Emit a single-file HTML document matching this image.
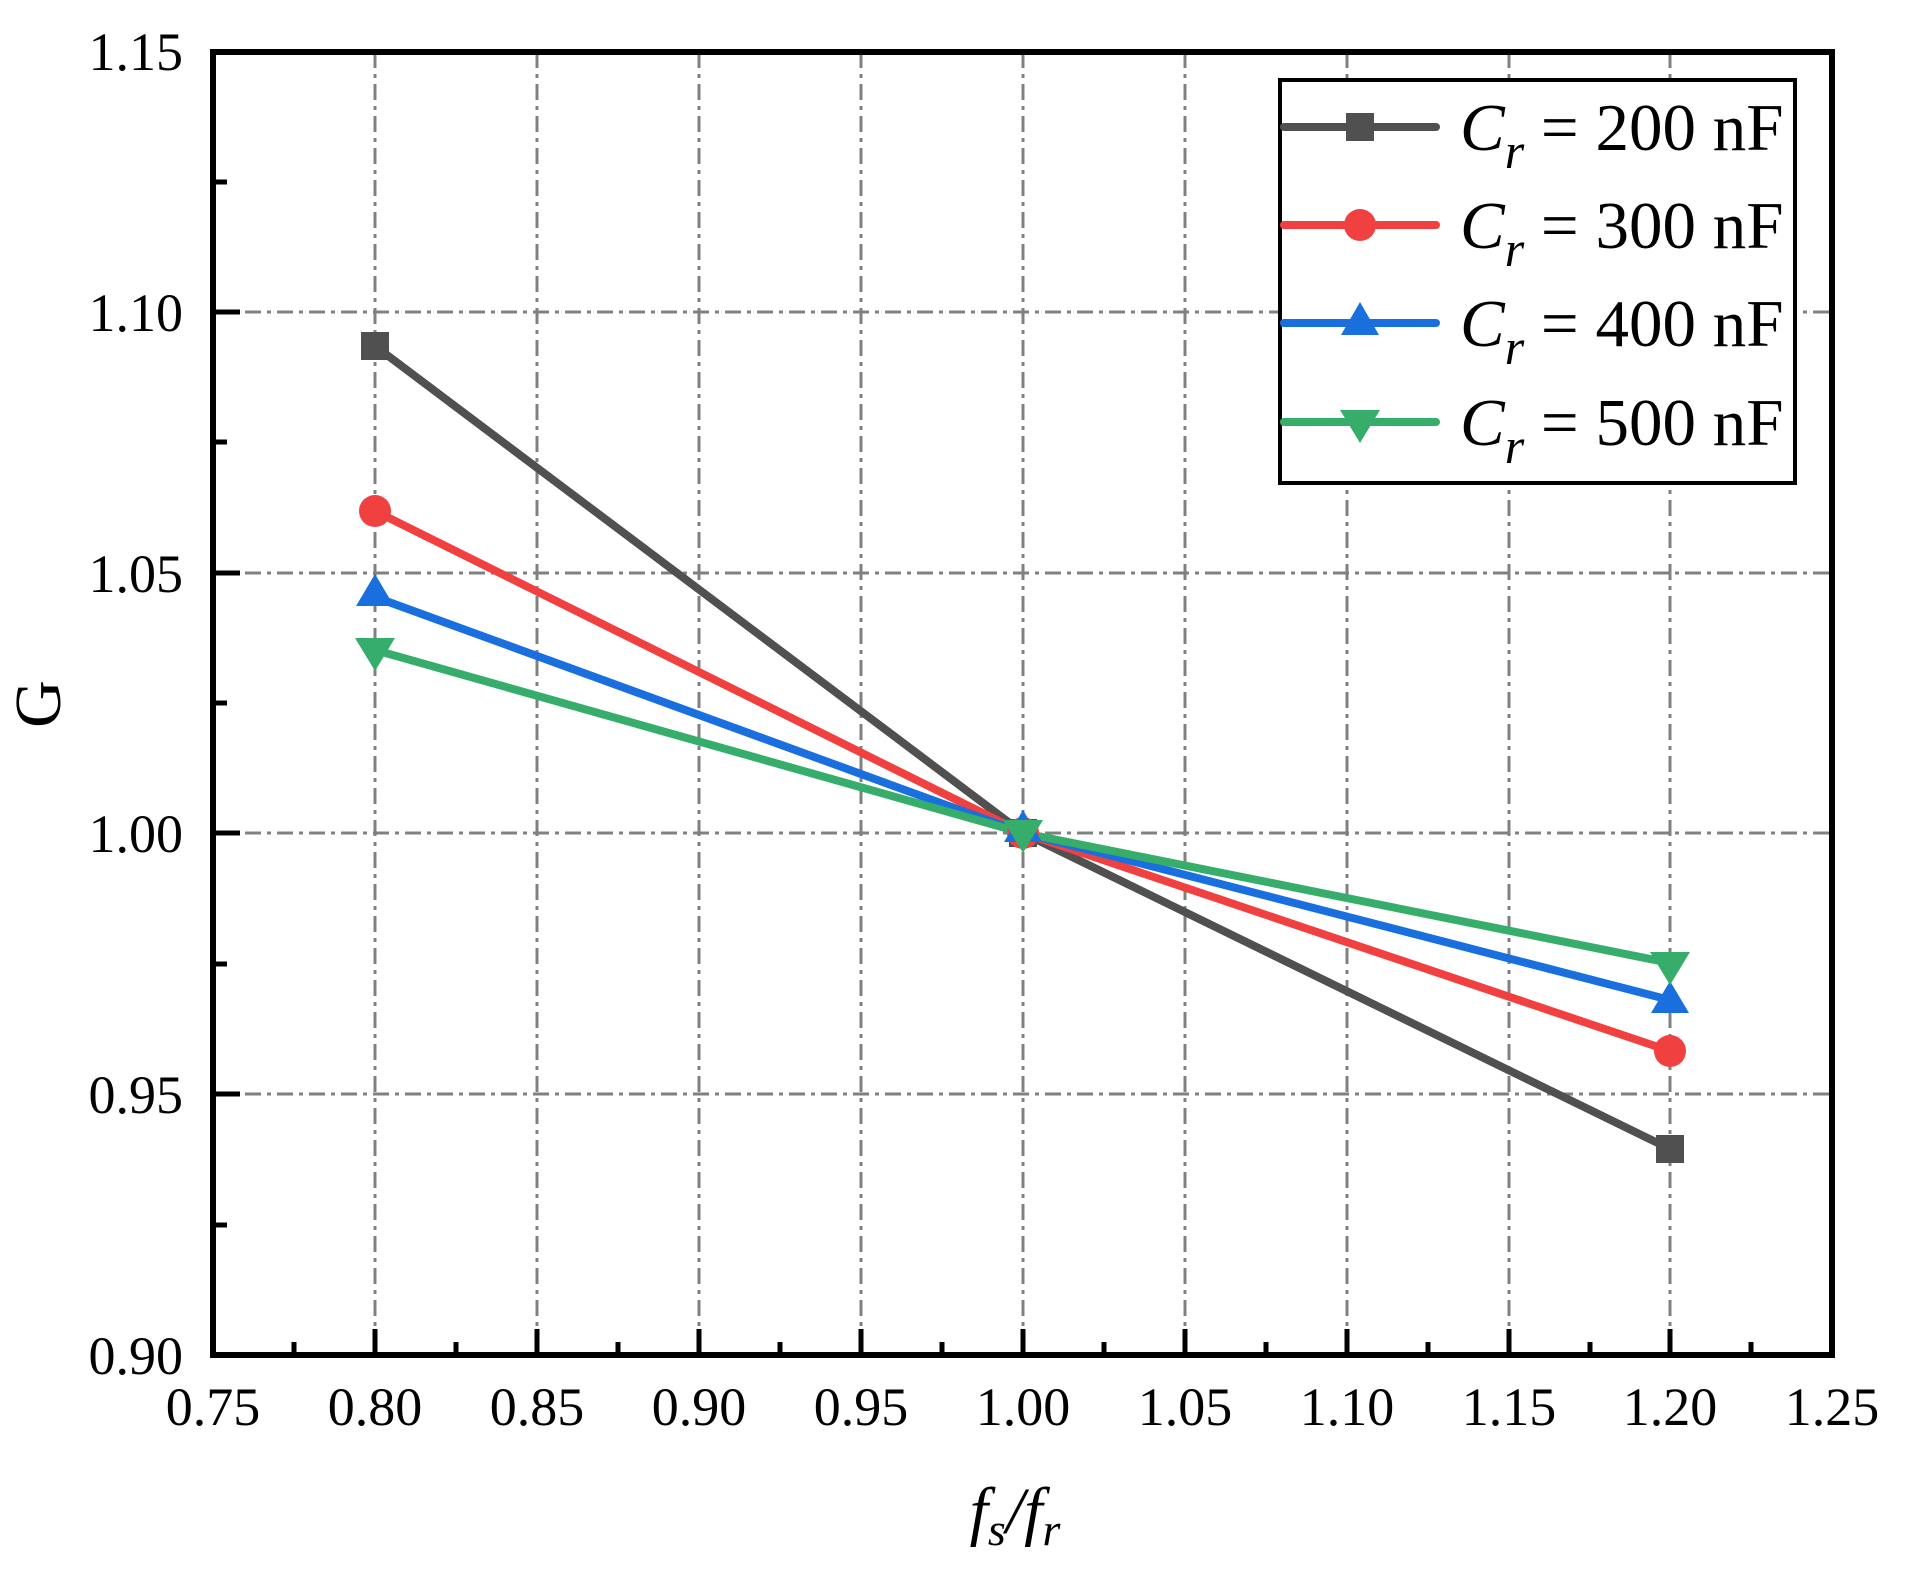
<!DOCTYPE html>
<html><head><style>body{margin:0;background:#fff}svg{display:block}</style></head><body>
<svg width="1905" height="1574" viewBox="0 0 1905 1574" xmlns="http://www.w3.org/2000/svg" font-family="Liberation Serif, serif">
<rect width="1905" height="1574" fill="#fff"/>
<g stroke="#808080" stroke-width="3" stroke-dasharray="16 6 4 6" fill="none">
<line x1="375" y1="52" x2="375" y2="1355"/>
<line x1="537" y1="52" x2="537" y2="1355"/>
<line x1="699" y1="52" x2="699" y2="1355"/>
<line x1="861" y1="52" x2="861" y2="1355"/>
<line x1="1023" y1="52" x2="1023" y2="1355"/>
<line x1="1185" y1="52" x2="1185" y2="1355"/>
<line x1="1347" y1="52" x2="1347" y2="1355"/>
<line x1="1509" y1="52" x2="1509" y2="1355"/>
<line x1="1670" y1="52" x2="1670" y2="1355"/>
<line x1="213" y1="312" x2="1832" y2="312"/>
<line x1="213" y1="573" x2="1832" y2="573"/>
<line x1="213" y1="833" x2="1832" y2="833"/>
<line x1="213" y1="1094" x2="1832" y2="1094"/>
</g>
<g stroke="#000" stroke-width="5">
<line x1="213" y1="312" x2="240" y2="312"/><line x1="213" y1="573" x2="240" y2="573"/><line x1="213" y1="833" x2="240" y2="833"/><line x1="213" y1="1094" x2="240" y2="1094"/>
<line x1="213" y1="182" x2="227" y2="182"/><line x1="213" y1="442" x2="227" y2="442"/><line x1="213" y1="703" x2="227" y2="703"/><line x1="213" y1="964" x2="227" y2="964"/><line x1="213" y1="1225" x2="227" y2="1225"/>
<line x1="375" y1="1355" x2="375" y2="1329"/><line x1="537" y1="1355" x2="537" y2="1329"/><line x1="699" y1="1355" x2="699" y2="1329"/><line x1="861" y1="1355" x2="861" y2="1329"/><line x1="1023" y1="1355" x2="1023" y2="1329"/><line x1="1185" y1="1355" x2="1185" y2="1329"/><line x1="1347" y1="1355" x2="1347" y2="1329"/><line x1="1509" y1="1355" x2="1509" y2="1329"/><line x1="1670" y1="1355" x2="1670" y2="1329"/>
<line x1="294" y1="1355" x2="294" y2="1342"/><line x1="456" y1="1355" x2="456" y2="1342"/><line x1="618" y1="1355" x2="618" y2="1342"/><line x1="780" y1="1355" x2="780" y2="1342"/><line x1="942" y1="1355" x2="942" y2="1342"/><line x1="1104" y1="1355" x2="1104" y2="1342"/><line x1="1266" y1="1355" x2="1266" y2="1342"/><line x1="1428" y1="1355" x2="1428" y2="1342"/><line x1="1590" y1="1355" x2="1590" y2="1342"/><line x1="1751" y1="1355" x2="1751" y2="1342"/>
</g>
<rect x="213" y="52" width="1619" height="1303" fill="none" stroke="#000" stroke-width="6"/>
<g font-size="54" text-anchor="end" fill="#000">
<text x="183" y="70">1.15</text><text x="183" y="331">1.10</text><text x="183" y="592">1.05</text><text x="183" y="852">1.00</text><text x="183" y="1113">0.95</text><text x="183" y="1374">0.90</text>
</g>
<g font-size="54" text-anchor="middle" fill="#000">
<text x="213" y="1425">0.75</text><text x="375" y="1425">0.80</text><text x="537" y="1425">0.85</text><text x="699" y="1425">0.90</text><text x="861" y="1425">0.95</text><text x="1023" y="1425">1.00</text><text x="1185" y="1425">1.05</text><text x="1347" y="1425">1.10</text><text x="1509" y="1425">1.15</text><text x="1670" y="1425">1.20</text><text x="1832" y="1425">1.25</text>
</g>
<text transform="translate(60,704) rotate(-90)" font-size="66" text-anchor="middle">G</text>
<text x="1015" y="1533" font-size="66" font-style="italic" text-anchor="middle">f<tspan font-size="46" dy="12">s</tspan><tspan dy="-12">/f</tspan><tspan font-size="46" dy="12">r</tspan></text>
<g stroke-width="8" fill="none" stroke-linejoin="round">
<polyline points="375,346 1023,833 1670,1149" stroke="#505050"/>
<polyline points="375,511 1023,833 1670,1051" stroke="#f04040"/>
<polyline points="375,597 1023,833 1670,1000" stroke="#1a6fdf"/>
<polyline points="375,650 1023,833 1670,963" stroke="#37ad6b"/>
</g>
<g fill="#505050"><rect x="361" y="332" width="28" height="28"/><rect x="1009" y="819" width="28" height="28"/><rect x="1656" y="1135" width="28" height="28"/></g>
<g fill="#f04040"><circle cx="375" cy="511" r="16"/><circle cx="1023" cy="833" r="16"/><circle cx="1670" cy="1051" r="16"/></g>
<g fill="#1a6fdf"><polygon points="375,574 356,606 394,606"/><polygon points="1023,810 1004,842 1042,842"/><polygon points="1670,981 1651,1013 1689,1013"/></g>
<g fill="#37ad6b"><polygon points="355,638 395,638 375,671"/><polygon points="1003,820 1043,820 1023,853"/><polygon points="1650,952 1690,952 1670,985"/></g>
<rect x="1280" y="80" width="515" height="403" fill="#fff" stroke="#000" stroke-width="4"/>
<g stroke-width="8" stroke-linecap="round">
<line x1="1284" y1="127" x2="1436" y2="127" stroke="#505050"/>
<line x1="1284" y1="225" x2="1436" y2="225" stroke="#f04040"/>
<line x1="1284" y1="323" x2="1436" y2="323" stroke="#1a6fdf"/>
<line x1="1284" y1="422" x2="1436" y2="422" stroke="#37ad6b"/>
</g>
<rect x="1346" y="113" width="28" height="28" fill="#505050"/>
<circle cx="1360" cy="225" r="16" fill="#f04040"/>
<polygon points="1360,302 1341,335 1379,335" fill="#1a6fdf"/>
<polygon points="1340,410 1380,410 1360,443" fill="#37ad6b"/>
<g font-size="67" fill="#000">
<text x="1460" y="150"><tspan font-style="italic">C</tspan><tspan font-style="italic" font-size="50" dy="18">r</tspan><tspan dy="-18"> = 200 nF</tspan></text>
<text x="1460" y="248"><tspan font-style="italic">C</tspan><tspan font-style="italic" font-size="50" dy="18">r</tspan><tspan dy="-18"> = 300 nF</tspan></text>
<text x="1460" y="346"><tspan font-style="italic">C</tspan><tspan font-style="italic" font-size="50" dy="18">r</tspan><tspan dy="-18"> = 400 nF</tspan></text>
<text x="1460" y="445"><tspan font-style="italic">C</tspan><tspan font-style="italic" font-size="50" dy="18">r</tspan><tspan dy="-18"> = 500 nF</tspan></text>
</g>
</svg>
</body></html>
